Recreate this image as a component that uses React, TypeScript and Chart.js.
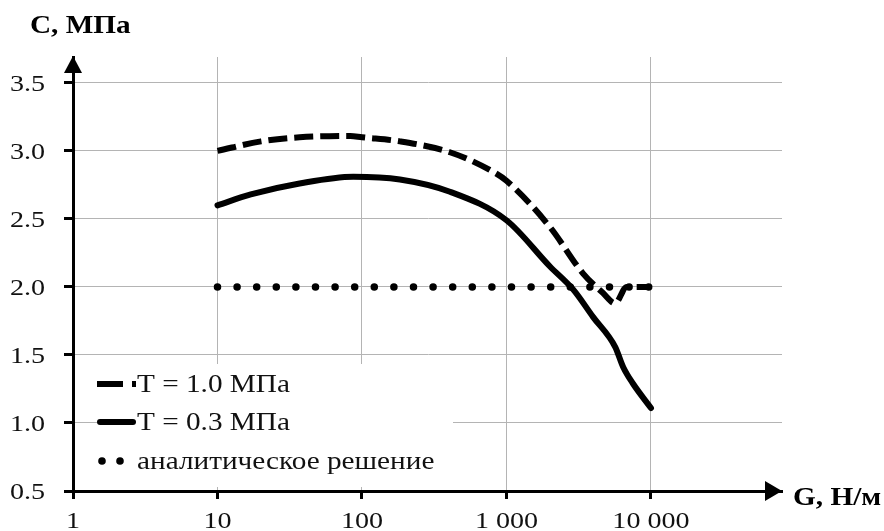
import React, { useEffect, useRef } from 'react';
import { Chart, registerables } from 'chart.js';

Chart.register(...registerables);

// ---- data ----
const xTickValues = [1, 10, 100, 1000, 10000];
const xTickLabels = ['1', '10', '100', '1 000', '10 000'];
const yTickValues = [0.5, 1.0, 1.5, 2.0, 2.5, 3.0, 3.5];

const gT10 = [10, 20, 37, 83, 100, 183, 406, 766, 1000, 2000, 3380, 4660, 5650, 6800, 10000];
const cT10 = [3.0, 3.07, 3.1, 3.11, 3.1, 3.07, 2.99, 2.86, 2.78, 2.44, 2.1, 1.955, 1.88, 2.0, 2.0];

const gT03 = [10, 17, 37, 87, 183, 406, 1000, 2000, 2900, 3970, 5650, 6430, 7500, 10000];
const cT03 = [2.6, 2.68, 2.76, 2.81, 2.79, 2.7, 2.49, 2.15, 1.98, 1.78, 1.56, 1.41, 1.29, 1.11];

const gAnalytic = [10, 10000];
const cAnalytic = [2.0, 2.0];

const legendLabels = ['T = 1.0 МПа', 'T = 0.3 МПа', 'аналитическое решение'];
const yTitle = 'C, МПа';
const xTitle = 'G, Н/м';

const SERIF = '"Liberation Serif", "Times New Roman", serif';
const SX = 1.17; // horizontal stretch of the reference's text

const toPoints = (xs: number[], ys: number[]) => xs.map((x, i) => ({ x, y: ys[i] }));

function drawText(ctx: CanvasRenderingContext2D, text: string, x: number, y: number, align: 'left' | 'center' | 'right') {
  ctx.textAlign = 'left';
  ctx.textBaseline = 'alphabetic';
  const w = ctx.measureText(text).width * SX;
  const left = align === 'center' ? x - w / 2 : align === 'right' ? x - w : x;
  ctx.save();
  ctx.translate(left, y);
  ctx.scale(SX, 1);
  ctx.fillText(text, 0, 0);
  ctx.restore();
}

const decorPlugin = {
  id: 'decor',
  afterDraw(chart: any) {
    const { ctx, chartArea } = chart;
    const { left, right, top, bottom } = chartArea;
    const xs = chart.scales.x;
    const ys = chart.scales.y;
    ctx.save();
    // arrows
    ctx.fillStyle = '#000';
    ctx.beginPath();
    ctx.moveTo(left, top - 1);
    ctx.lineTo(left - 9, top + 16);
    ctx.lineTo(left + 9, top + 16);
    ctx.closePath();
    ctx.fill();
    ctx.beginPath();
    ctx.moveTo(right, bottom);
    ctx.lineTo(right - 17, bottom - 10);
    ctx.lineTo(right - 17, bottom + 10);
    ctx.closePath();
    ctx.fill();

    // tick labels
    ctx.fillStyle = '#111';
    ctx.font = '24px ' + SERIF;
    yTickValues.forEach((v) => {
      drawText(ctx, v.toFixed(1), 45, ys.getPixelForValue(v) + 8, 'right');
    });
    xTickValues.forEach((v, i) => {
      drawText(ctx, xTickLabels[i], xs.getPixelForValue(v), 528, 'center');
    });

    // titles
    ctx.fillStyle = '#000';
    ctx.font = 'bold 25px ' + SERIF;
    drawText(ctx, yTitle, 30, 33, 'left');
    drawText(ctx, xTitle, right + 11, 505, 'left');

    // legend
    const bx = 97, by = 364, bw = 356, bh = 123;
    ctx.fillStyle = '#fff';
    ctx.fillRect(bx, by, bw, bh);
    const rows = [384, 422, 461];
    ctx.strokeStyle = '#000';
    ctx.lineWidth = 6;
    ctx.setLineDash([26, 9]);
    ctx.lineCap = 'butt';
    ctx.beginPath();
    ctx.moveTo(97, rows[0]);
    ctx.lineTo(136, rows[0]);
    ctx.stroke();
    ctx.setLineDash([]);
    ctx.lineCap = 'round';
    ctx.beginPath();
    ctx.moveTo(100, rows[1]);
    ctx.lineTo(133, rows[1]);
    ctx.stroke();
    ctx.fillStyle = '#000';
    [102, 120].forEach((cx) => {
      ctx.beginPath();
      ctx.arc(cx, rows[2], 3.8, 0, Math.PI * 2);
      ctx.fill();
    });
    ctx.fillStyle = '#111';
    ctx.font = '25px ' + SERIF;
    legendLabels.forEach((t, i) => drawText(ctx, t, 137, rows[i] + 8, 'left'));
    ctx.restore();
  },
};

export default function App() {
  const ref = useRef<HTMLCanvasElement>(null);
  useEffect(() => {
    if (!ref.current) return;
    const chart = new Chart(ref.current, {
      type: 'line',
      data: {
        datasets: [
          {
            label: legendLabels[0],
            data: toPoints(gT10, cT10),
            borderColor: '#000',
            borderWidth: 6,
            borderDash: [19, 7],
            pointRadius: 0,
            cubicInterpolationMode: 'monotone',
            fill: false,
          },
          {
            label: legendLabels[1],
            data: toPoints(gT03, cT03),
            borderColor: '#000',
            borderWidth: 6,
            borderCapStyle: 'round',
            pointRadius: 0,
            cubicInterpolationMode: 'monotone',
            fill: false,
          },
          {
            label: legendLabels[2],
            data: toPoints(gAnalytic, cAnalytic),
            borderColor: '#000',
            borderWidth: 7.5,
            borderDash: [0, 19.6],
            borderCapStyle: 'round',
            pointRadius: 0,
            fill: false,
          },
        ],
      },
      options: {
        animation: false,
        responsive: true,
        maintainAspectRatio: false,
        devicePixelRatio: 1,
        layout: { padding: { top: 57, right: 102, left: 0, bottom: 0 } },
        plugins: { legend: { display: false }, tooltip: { enabled: false } },
        scales: {
          x: {
            type: 'logarithmic',
            min: 1,
            max: 80700,
            afterBuildTicks: (scale: any) => {
              scale.ticks = xTickValues.map((v) => ({ value: v }));
            },
            afterFit: (scale: any) => {
              scale.height = 40;
            },
            ticks: { display: false, autoSkip: false, maxRotation: 0 },
            grid: {
              color: '#b4b4b4',
              lineWidth: 1,
              drawTicks: true,
              tickColor: '#000',
              tickLength: 8,
              tickWidth: 3,
            },
            border: { color: '#000', width: 3 },
          },
          y: {
            type: 'linear',
            min: 0.5,
            max: 3.69,
            afterBuildTicks: (scale: any) => {
              scale.ticks = yTickValues.map((v) => ({ value: v }));
            },
            afterFit: (scale: any) => {
              scale.width = 73;
            },
            ticks: { display: false },
            grid: {
              color: '#b4b4b4',
              lineWidth: 1,
              drawTicks: true,
              tickColor: '#000',
              tickLength: 9,
              tickWidth: 3,
            },
            border: { color: '#000', width: 3 },
          },
        },
      },
      plugins: [decorPlugin],
    } as any);
    return () => chart.destroy();
  }, []);
  return (
    <div style={{ position: 'absolute', left: 0, top: 0, width: 884, height: 531, background: '#fff' }}>
      <canvas ref={ref} />
    </div>
  );
}
